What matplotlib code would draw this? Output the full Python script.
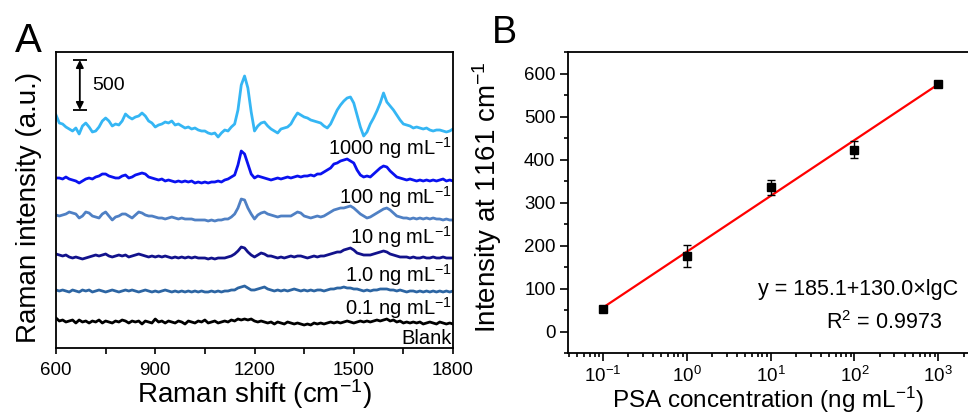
import numpy as np
import matplotlib
matplotlib.use('Agg')
import matplotlib.pyplot as plt
from matplotlib.ticker import MultipleLocator, LogLocator, NullFormatter

plt.rcParams['font.family'] = ['Liberation Sans', 'DejaVu Sans']
plt.rcParams['mathtext.fontset'] = 'custom'
plt.rcParams['mathtext.rm'] = 'Liberation Sans'
plt.rcParams['mathtext.default'] = 'rm'

# ---- panel A: SERS spectra (a.u., each relative to its own baseline) ----
shift = np.arange(600, 1801, 10)

I_1000 = [150, 70, 60, 30, 10, -10, 20, -40, 40, 70,
          30, -20, -10, 30, 90, 120, 90, 40, 60, 50,
          90, 160, 130, 110, 130, 140, 170, 140, 90, 70,
          30, 50, 60, 80, 70, 90, 50, 60, 40, 20,
          30, 10, 20, 0, -10, -10, -30, -40, -30, -70,
          -30, 0, -10, 30, 60, 200, 450, 540, 420, 180,
          -10, 40, 70, 80, 40, 10, -10, -30, 10, 20,
          30, 60, 120, 170, 150, 130, 120, 100, 90, 80,
          70, 40, 20, 60, 130, 200, 250, 290, 320, 330,
          270, 150, 30, -60, -20, 60, 120, 190, 270, 370,
          280, 240, 200, 150, 100, 60, 50, 40, 20, 30,
          20, 10, 20, 0, -10, 0, 0, -10, -20, -10,
          10]
I_100 = [20, 20, 10, 30, 10, 0, -10, -30, -10, 10,
         20, 10, 30, 40, 60, 60, 40, 30, 20, 20,
         40, 50, 20, 30, 50, 60, 70, 60, 30, 20,
         10, 0, 10, -10, 0, -10, -20, -10, -20, -10,
         -20, -10, -30, -20, -30, -20, -30, -20, -20, -10,
         -20, 0, 10, 30, 50, 150, 290, 260, 160, 60,
         20, 40, 30, 20, 10, 0, 10, 20, 10, 20,
         30, 20, 30, 40, 30, 40, 40, 50, 40, 60,
         60, 80, 100, 120, 160, 170, 190, 200, 210, 190,
         170, 100, 50, 30, 40, 30, 60, 90, 120, 140,
         130, 90, 60, 30, 20, 10, 0, 10, 0, -10,
         0, -10, 0, -10, 0, -10, 0, 10, -10, 0,
         -10]
I_10 = [30, 20, 30, 40, 60, 50, 40, 0, 20, 60,
        50, 20, 10, 0, 40, 60, 20, -20, 10, 20,
        40, 40, 20, 0, 30, 60, 50, 30, 20, 20,
        10, 0, 0, -10, 0, 10, 0, -10, 0, -10,
        -10, -10, -20, -20, -20, -20, -30, -20, -30, -20,
        -20, -10, -10, 10, 40, 100, 190, 180, 100, 40,
        -10, 30, 50, 60, 40, 30, 20, 10, 20, 20,
        20, 20, 40, 60, 50, 20, 10, 0, 10, 20,
        10, 20, 40, 60, 80, 90, 100, 100, 110, 120,
        100, 70, 40, 20, 0, 10, 30, 50, 70, 90,
        100, 80, 50, 20, 10, 0, 0, -10, 0, -10,
        0, -10, 0, -10, 0, -10, -10, -20, -10, -20,
        -20]
I_1 = [30, 20, 10, 20, 0, -10, 0, -10, -20, -10,
       0, 10, 20, 10, 20, 30, 10, 0, 10, 20,
       10, 20, 0, 10, 20, 30, 20, 10, 0, 10,
       0, 10, 0, 10, 0, -10, 0, -10, 0, -10,
       0, -10, 0, -10, -10, -10, -20, -10, -20, -10,
       -10, -10, 0, 10, 30, 60, 100, 90, 50, 20,
       0, 20, 40, 30, 10, 10, 0, -10, 0, -10,
       0, 10, 0, 10, 10, 0, -10, 0, 10, 0,
       10, 10, 20, 30, 40, 50, 50, 70, 80, 90,
       70, 40, 30, 20, 20, 20, 30, 40, 50, 60,
       50, 30, 20, 10, 0, 0, 0, -10, 0, -10,
       -10, 0, -10, -10, 0, -10, -10, 0, -10, -10,
       -10]
I_01 = [10, 0, 10, 0, -10, 10, 0, -10, 10, 0,
        10, -10, 0, 10, 0, -10, 0, 10, 0, -10,
        0, 10, 0, 10, 0, -10, 0, 10, 0, -10,
        0, -10, 0, 10, 0, -10, 0, -10, 0, -10,
        0, -10, 0, -10, 0, -10, -10, 0, -10, 0,
        -10, 0, 0, 10, 10, 30, 40, 50, 30, 10,
        10, 20, 30, 40, 20, 10, 0, 10, 0, 10,
        0, 10, 20, 10, 0, 10, 0, 10, 0, 10,
        10, 0, 10, 20, 20, 30, 30, 40, 30, 30,
        20, 20, 10, 0, 10, 0, 10, 10, 20, 20,
        20, 10, 10, 0, 10, 0, -10, 0, 0, -10,
        0, -10, 0, -10, 0, -10, 0, -10, 0, -10,
        0]
I_blank = [40, 10, 20, 0, 10, 20, -10, 20, 0, 10,
           -10, 10, 0, 20, -10, 10, 0, -10, 10, 0,
           20, 10, -10, 10, 0, 10, -20, 10, 0, -10,
           30, 0, 10, -10, 10, 0, -10, 10, 0, -20,
           10, 0, -10, 10, 0, 20, -10, 0, 10, -10,
           0, 10, 0, 20, 10, 30, 20, 30, 20, 30,
           10, 0, 10, 0, -10, 0, -20, 0, -10, -20,
           0, -10, -20, -10, -20, -30, -20, -30, -10, -20,
           -10, -20, -10, 0, -10, 0, -10, 0, 10, 0,
           -10, 0, 10, 0, 10, 0, 10, 20, 10, 20,
           30, 10, 20, 0, 10, -10, 0, -10, 0, -10,
           0, -20, -10, 0, -10, -20, 0, -10, -20, -10,
           -20]

spectra = [I_1000, I_100, I_10, I_1, I_01, I_blank]
offsets = [2180, 1680, 1300, 910, 570, 260]
labels = ['1000 ng mL$^{-1}$', '100 ng mL$^{-1}$', '10 ng mL$^{-1}$',
          '1.0 ng mL$^{-1}$', '0.1 ng mL$^{-1}$', 'Blank']
label_y = [2000, 1510, 1110, 730, 400, 100]
colors = ['#35b6f4', '#0a12f0', '#4f80c4', '#12128c', '#2c65a3', '#000000']

# ---- panel B: calibration ----
conc = [0.1, 1, 10, 100, 1000]
peak_int = [53, 175, 335, 423, 576]
peak_err = [6, 26, 17, 20, 5]
fit_a, fit_b = 185.1, 130.0

fig = plt.figure(figsize=(9.68, 4.13), dpi=100)
W, H = 968, 413

# panel A
ax = fig.add_axes([56 / W, (H - 348) / H, 397 / W, 296 / H])
for y, off, c in zip(spectra, offsets, colors):
    ax.plot(shift, np.array(y) + off, color=c, lw=2.0)
for txt, ly in zip(labels, label_y):
    ax.text(1796, ly, txt, ha='right', va='center', fontsize=14.5)

# 500 a.u. scale bar
ax.annotate('', xy=(672, 2880), xytext=(672, 2380),
            arrowprops=dict(arrowstyle='<|-|>', color='k', lw=1.3,
                            shrinkA=0, shrinkB=0, mutation_scale=11))
ax.hlines([2880, 2380], 651, 694, color='k', lw=1.3)
ax.text(710, 2630, '500', va='center', fontsize=14)

ax.set_xlim(600, 1800)
ax.set_ylim(0, 2960)
ax.xaxis.set_major_locator(MultipleLocator(300))
ax.xaxis.set_minor_locator(MultipleLocator(150))
ax.set_yticks([])
ax.tick_params(axis='x', which='major', direction='out', length=4, width=1.2,
               labelsize=13.5, pad=6)
ax.tick_params(axis='x', which='minor', direction='out', length=4, width=1.2)
for s in ax.spines.values():
    s.set_linewidth(1.3)
ax.set_xlabel('Raman shift (cm$^{-1}$)', fontsize=20)
ax.set_ylabel('Raman intensity (a.u.)', fontsize=20)
ax.xaxis.set_label_coords(0.5, -0.10)
ax.yaxis.set_label_coords(-0.035, 0.476)
fig.text(15 / W, 1 - 52 / H, 'A', fontsize=29, va='baseline')

# panel B
bx = fig.add_axes([568 / W, (H - 353) / H, 402 / W, 301 / H])
bx.set_xscale('log')
bx.set_xlim(10 ** -1.413, 10 ** 3.377)
bx.set_ylim(-50, 650)
bx.plot(conc, [fit_a + fit_b * np.log10(c) for c in conc], color='red', lw=1.6, zorder=2)
bx.errorbar(conc, peak_int, yerr=peak_err, fmt='s', color='k', ms=6,
            capsize=3, elinewidth=1, capthick=1, zorder=3)
bx.yaxis.set_major_locator(MultipleLocator(100))
bx.yaxis.set_minor_locator(MultipleLocator(50))
bx.xaxis.set_major_locator(LogLocator(base=10, numticks=10))
bx.xaxis.set_minor_locator(LogLocator(base=10, subs=np.arange(2, 10), numticks=20))
bx.xaxis.set_minor_formatter(NullFormatter())
bx.tick_params(which='major', direction='out', length=6, width=1.2,
               labelsize=13.5, pad=3)
bx.tick_params(which='minor', direction='out', length=3, width=1.2)
for s in bx.spines.values():
    s.set_linewidth(1.3)
bx.set_xlabel('PSA concentration (ng mL$^{-1}$)', fontsize=17.5)
bx.set_ylabel('Intensity at 1161 cm$^{-1}$', fontsize=20)
bx.xaxis.set_label_coords(0.4975, -0.105)
bx.yaxis.set_label_coords(-0.16, 0.518)
fig.text(492 / W, 1 - 43 / H, 'B', fontsize=27, va='baseline')

fig.text(958 / W, 1 - 290 / H, 'y = 185.1+130.0\u00d7lgC', ha='right', va='center', fontsize=15.5)
fig.text(942 / W, 1 - 323 / H, 'R$^2$ = 0.9973', ha='right', va='center', fontsize=15.5)

fig.savefig('out.png', dpi=100)
